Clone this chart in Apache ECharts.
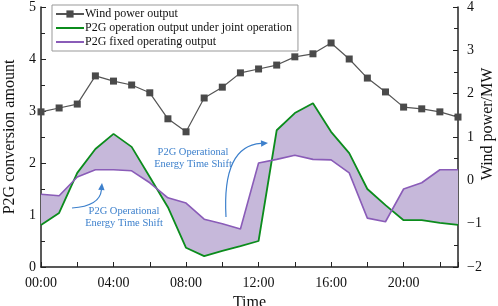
<!DOCTYPE html>
<html>
<head>
<meta charset="utf-8">
<script src="https://cdn.jsdelivr.net/npm/echarts@6/dist/echarts.min.js"></script>
<style>
  html, body { margin: 0; padding: 0; background: #fff; }
  #main { width: 498px; height: 306px; }
</style>
</head>
<body>
<div id="main"></div>
<script>
var hours = [0, 1, 2, 3, 4, 5, 6, 7, 8, 9, 10, 11, 12, 13, 14, 15, 16, 17, 18, 19, 20, 21, 22, 23];
// wind power output, MW (right axis)
var windPower = [1.58, 1.67, 1.76, 2.41, 2.29, 2.20, 2.02, 1.42, 1.12, 1.90, 2.15, 2.48,
                 2.57, 2.66, 2.85, 2.92, 3.17, 2.80, 2.36, 2.04, 1.69, 1.65, 1.58, 1.46];
// P2G output under joint operation (left axis)
var p2gJoint = [0.81, 1.04, 1.81, 2.27, 2.56, 2.31, 1.73, 1.15, 0.37, 0.21, 0.31, 0.40,
                0.50, 2.63, 2.96, 3.15, 2.60, 2.19, 1.50, 1.19, 0.90, 0.90, 0.85, 0.81];
// P2G fixed operating output (left axis)
var p2gFixed = [1.40, 1.37, 1.73, 1.87, 1.87, 1.85, 1.62, 1.33, 1.23, 0.92, 0.83, 0.73,
                2.00, 2.07, 2.15, 2.07, 2.06, 1.81, 0.94, 0.87, 1.50, 1.62, 1.87, 1.87];
var leftTicks = [0, 1, 2, 3, 4, 5];
var rightTicks = [-2, -1, 0, 1, 2, 3, 4];

var serif = 'Liberation Serif, DejaVu Serif, serif';
var blue = '#3d80cc';
var noteText = 'P2G Operational\nEnergy Time Shift';

function pairs(ys) {
  return hours.map(function (h, i) { return [h, ys[i]]; });
}
function hh(v) {
  return (v < 10 ? '0' : '') + v + ':00';
}

// curved arrow with head, pixel annotation
function arrow(p0, c, p1) {
  var dx = p1[0] - c[0], dy = p1[1] - c[1];
  var len = Math.sqrt(dx * dx + dy * dy);
  var ux = dx / len, uy = dy / len;
  var hl = 7, hw = 3.2;
  var bx = p1[0] - ux * hl, by = p1[1] - uy * hl;
  return [
    { type: 'bezierCurve', silent: true,
      shape: { x1: p0[0], y1: p0[1], cpx1: c[0], cpy1: c[1], x2: bx, y2: by },
      style: { stroke: blue, lineWidth: 1.2, fill: null } },
    { type: 'polygon', silent: true,
      shape: { points: [p1, [bx - uy * hw, by + ux * hw], [bx + uy * hw, by - ux * hw]] },
      style: { fill: blue } }
  ];
}

function note(cx, top) {
  return { type: 'text', x: cx, y: top, silent: true,
    style: { text: noteText, fill: blue, font: '10.5px ' + serif,
             align: 'center', verticalAlign: 'top', lineHeight: 12 } };
}

var chart = echarts.init(document.getElementById('main'));
var option = {
  animation: false,
  textStyle: { fontFamily: serif },
  grid: { left: 41, right: 40, top: 7, bottom: 39, containLabel: false, outerBoundsMode: 'none' },
  legend: {
    left: 52, top: 5, orient: 'vertical',
    data: [
      { name: 'Wind power output' },
      { name: 'P2G operation output under joint operation', itemStyle: { opacity: 0 } },
      { name: 'P2G fixed operating output', itemStyle: { opacity: 0 } }
    ],
    selectedMode: false,
    backgroundColor: '#fff',
    borderColor: '#999', borderWidth: 1,
    padding: [3, 6, 3, 3],
    itemWidth: 28, itemHeight: 9, itemGap: 2,
    textStyle: { fontFamily: serif, fontSize: 12, color: '#111', padding: [0, 0, 0, -4] }
  },
  xAxis: {
    type: 'value', min: 0, max: 23, interval: 2,
    name: 'Time', nameLocation: 'middle', nameGap: 27,
    nameTextStyle: { fontFamily: serif, fontSize: 16, color: '#111' },
    axisLine: { lineStyle: { color: '#222', width: 1.5 } },
    axisTick: { inside: true, length: 5, lineStyle: { color: '#222' } },
    axisLabel: {
      fontFamily: serif, fontSize: 14, color: '#111', margin: 9,
      formatter: function (v) { return v % 4 === 0 ? hh(v) : ''; }
    },
    splitLine: { show: false }
  },
  yAxis: [{
    type: 'value', min: leftTicks[0], max: leftTicks[leftTicks.length - 1], interval: 1,
    name: 'P2G conversion amount', nameLocation: 'middle', nameGap: 23,
    nameTextStyle: { fontFamily: serif, fontSize: 16, color: '#111' },
    axisLine: { show: true, lineStyle: { color: '#222', width: 1.5 } },
    axisTick: { inside: true, length: 5, lineStyle: { color: '#222' } },
    minorTick: { show: true, splitNumber: 2, length: 4, lineStyle: { color: '#222' } },
    axisLabel: { fontFamily: serif, fontSize: 14, color: '#111', margin: 5 },
    splitLine: { show: false }
  }, {
    type: 'value', min: rightTicks[0], max: rightTicks[rightTicks.length - 1], interval: 1,
    position: 'right',
    name: 'Wind power/MW', nameLocation: 'middle', nameGap: 22, nameRotate: 90,
    nameMoveOverlap: false,
    nameTextStyle: { fontFamily: serif, fontSize: 16, color: '#111', padding: [0, 0, 0, 26] },
    axisLine: { show: true, lineStyle: { color: '#222', width: 1.5 } },
    axisTick: { inside: true, length: 5, lineStyle: { color: '#222' } },
    minorTick: { show: true, splitNumber: 2, length: 4, lineStyle: { color: '#222' } },
    axisLabel: {
      fontFamily: serif, fontSize: 14, color: '#111', margin: 9,
      formatter: function (v) { return String(v).replace('-', '\u2212'); }
    },
    splitLine: { show: false }
  }],
  series: [{
    type: 'custom',
    name: 'shift area',
    coordinateSystem: 'cartesian2d',
    yAxisIndex: 0,
    silent: true, z: 1,
    data: [[0, 0]],
    renderItem: function (params, api) {
      var pts = [];
      for (var i = 0; i < hours.length; i++) pts.push(api.coord([hours[i], p2gJoint[i]]));
      for (var j = hours.length - 1; j >= 0; j--) pts.push(api.coord([hours[j], p2gFixed[j]]));
      return { type: 'polygon', shape: { points: pts }, style: { fill: '#c6b8da' } };
    }
  }, {
    type: 'line', name: 'Wind power output', yAxisIndex: 1, z: 3,
    data: pairs(windPower),
    symbol: 'rect', symbolSize: 7,
    lineStyle: { color: '#555', width: 1.2 },
    itemStyle: { color: '#4a4a4a' }
  }, {
    type: 'line', name: 'P2G operation output under joint operation', yAxisIndex: 0, z: 2,
    data: pairs(p2gJoint),
    symbol: 'none',
    lineStyle: { color: '#0b8c1c', width: 1.8 },
    itemStyle: { color: '#0b8c1c' }
  }, {
    type: 'line', name: 'P2G fixed operating output', yAxisIndex: 0, z: 2,
    data: pairs(p2gFixed),
    symbol: 'none',
    lineStyle: { color: '#8a5cb8', width: 1.6 },
    itemStyle: { color: '#8a5cb8' }
  }],
  graphic: [note(124, 205), note(193, 146)]
    .concat(arrow([72, 208], [100, 206], [102, 183]))
    .concat(arrow([226, 217], [222, 146], [268, 143]))
};
chart.setOption(option);
</script>
</body>
</html>
